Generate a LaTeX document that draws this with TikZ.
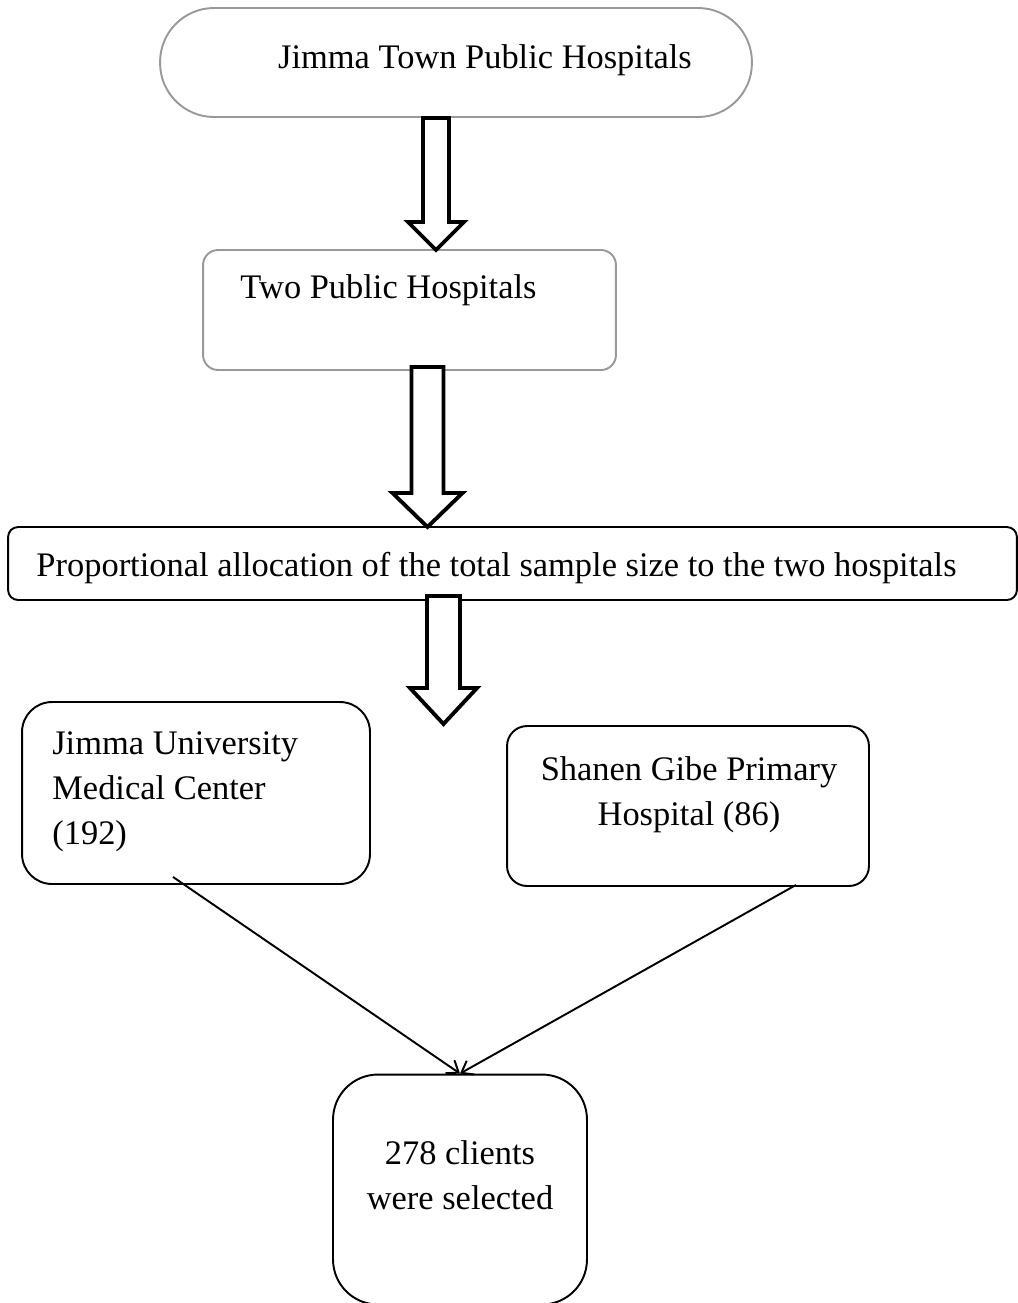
\documentclass[tikz,border=0pt]{standalone}
\usepackage{fontspec}
\setmainfont{Liberation Serif}
\usepackage{tikz}
\usetikzlibrary{arrows.meta,positioning,calc}
\tikzset{
  gbox/.style={draw=black!40,line width=1.1pt},
  bbox/.style={draw,line width=1.1pt},
  txt/.style={inner sep=0pt,font=\fontsize{19.6}{25.6}\selectfont},
  fat/.style={draw,line width=2.2pt,fill=white,line join=miter},
  arr/.style={-{Straight Barb[length=6pt,width=9pt]},line width=1.1pt},
}
\begin{document}
\begin{tikzpicture}[x=0.02cm,y=-0.02cm]
\clip (0,0) rectangle (1018,1303);
% boxes
\node[gbox,rounded corners=1.08cm,minimum width=11.84cm,minimum height=2.18cm] (town) at (456,62.5) {};
\node[gbox,rounded corners=0.3cm,minimum width=8.26cm,minimum height=2.4cm] (two) at (409.5,310) {};
\node[bbox,rounded corners=0.2cm,minimum width=20.18cm,minimum height=1.46cm] (prop) at (512.5,563.5) {};
\node[bbox,rounded corners=0.6cm,minimum width=6.96cm,minimum height=3.64cm] (jumc) at (196,793) {};
\node[bbox,rounded corners=0.4cm,minimum width=7.24cm,minimum height=3.2cm] (sgph) at (688,806) {};
\node[bbox,rounded corners=0.9cm,minimum width=5.08cm,minimum height=4.6cm] (sel) at (460,1189.5) {};
% texts
\node[txt,anchor=base] (towntxt) at (485,68) {Jimma Town Public Hospitals};
\node[txt,anchor=base] (twotxt) at (388.5,298) {Two Public Hospitals};
\node[txt,anchor=base] (proptxt) at (496.5,576) {Proportional allocation of the total sample size to the two hospitals};
\node[txt,anchor=west,align=left] (jumctxt) at (52,792) {Jimma University\\Medical Center\\(192)};
\node[txt,align=center] (sgphtxt) at (689,795) {Shanen Gibe Primary\\Hospital (86)};
\node[txt,align=center] (seltxt) at (460,1175) {278 clients\\were selected};
% block arrows
\foreach \x/\ya/\yb/\s/\h/\l in {436/118/250/13/28/28,427.5/367/527/16/35/34,443.5/596/724/16.5/33.5/36}
  \draw[fat] (\x-\s,\ya) -- (\x-\s,\yb-\l) -- (\x-\h,\yb-\l) -- (\x,\yb) -- (\x+\h,\yb-\l) -- (\x+\s,\yb-\l) -- (\x+\s,\ya) -- cycle;
% connectors
\coordinate (jumcout) at ($(jumc.south)+(-23,-8)$);
\coordinate (sgphout) at ($(sgph.south)+(108,-2)$);
\draw[arr] (jumcout) -- (sel.north);
\draw[arr] (sgphout) -- (sel.north);
\end{tikzpicture}
\end{document}
